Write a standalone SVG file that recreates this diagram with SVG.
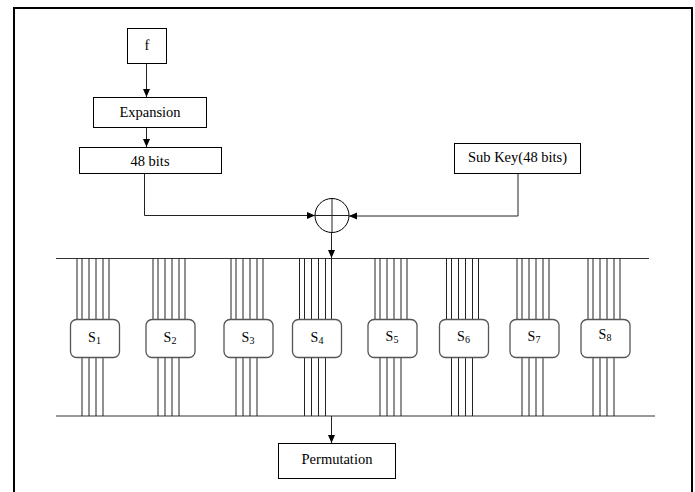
<svg xmlns="http://www.w3.org/2000/svg" width="695" height="492" viewBox="0 0 695 492">
<defs>
<style>
.box{fill:#fff;stroke:#000;stroke-width:1}
.sbox{fill:#fff;stroke:#555;stroke-width:1.3}
.ln{fill:none;stroke:#222;stroke-width:1}
.bus{fill:none;stroke:#333;stroke-width:1.2}
text{font-family:'Liberation Serif','Times New Roman','DejaVu Serif',serif;fill:#000;text-anchor:middle}
.t{font-size:14.5px}
.st{font-size:14px}
.sub{font-size:10px}
</style>
<marker id="ah" markerUnits="userSpaceOnUse" markerWidth="9" markerHeight="8" refX="8" refY="3.5" orient="auto">
<path d="M0,0 L8,3.5 L0,7 z" fill="#000"/>
</marker>
<g id="wires">
<line x1="7" y1="258" x2="7" y2="319"/><line x1="12" y1="258" x2="12" y2="319"/><line x1="19" y1="258" x2="19" y2="319"/><line x1="26" y1="258" x2="26" y2="319"/><line x1="33" y1="258" x2="33" y2="319"/><line x1="39" y1="258" x2="39" y2="319"/>
<line x1="12" y1="357" x2="12" y2="416"/><line x1="19" y1="357" x2="19" y2="416"/><line x1="26" y1="357" x2="26" y2="416"/><line x1="33" y1="357" x2="33" y2="416"/>
</g>
</defs>
<rect x="0" y="0" width="695" height="492" fill="#fff"/>
<rect x="14" y="8" width="678" height="490" fill="none" stroke="#000" stroke-width="2"/>

<g id="connectors">
<line class="ln" x1="146.5" y1="63" x2="146.5" y2="97" marker-end="url(#ah)"/>
<line class="ln" x1="146.5" y1="127" x2="146.5" y2="147" marker-end="url(#ah)"/>
<polyline class="ln" points="144.5,173 144.5,215.5 315,215.5" marker-end="url(#ah)"/>
<polyline class="ln" points="518,173 518,216 349,216" marker-end="url(#ah)"/>
<line class="ln" x1="331.5" y1="232" x2="331.5" y2="258" marker-end="url(#ah)"/>
<line class="bus" x1="56" y1="258.5" x2="649" y2="258.5"/>
<line class="bus" x1="56" y1="416" x2="655" y2="416" stroke-width="2" stroke="#555"/>
<line class="ln" x1="331.5" y1="416" x2="331.5" y2="443" marker-end="url(#ah)"/>
<g class="ln" stroke="#222">
<use href="#wires" x="70"/>
<use href="#wires" x="146"/>
<use href="#wires" x="224"/>
<use href="#wires" x="292.5"/>
<use href="#wires" x="368"/>
<use href="#wires" x="439.5"/>
<use href="#wires" x="510"/>
<use href="#wires" x="581"/>
</g>
</g>

<g id="node-f"><rect class="box" x="127.5" y="28.5" width="39" height="35"/><text class="t" x="147" y="50">f</text></g>
<g id="node-expansion"><rect class="box" x="93.5" y="97.5" width="113" height="30"/><text class="t" x="150" y="117">Expansion</text></g>
<g id="node-48bits"><rect class="box" x="79.5" y="147.5" width="142" height="26"/><text class="t" x="150" y="165.5">48 bits</text></g>
<g id="node-subkey"><rect class="box" x="454.5" y="143.5" width="126" height="30"/><text class="t" x="517.5" y="162">Sub Key(48 bits)</text></g>
<g id="node-xor"><circle cx="332" cy="215.5" r="17" fill="#fff" stroke="#000" stroke-width="1"/><line class="ln" x1="315" y1="215.5" x2="349" y2="215.5"/><line class="ln" x1="332" y1="198.5" x2="332" y2="232.5"/></g>

<g id="node-s1"><rect class="sbox" x="70.5" y="319.5" width="49" height="38" rx="6"/><text class="st" x="94.5" y="342">S<tspan class="sub" dy="2">1</tspan></text></g>
<g id="node-s2"><rect class="sbox" x="146" y="319.5" width="49" height="38" rx="6"/><text class="st" x="170" y="342">S<tspan class="sub" dy="2">2</tspan></text></g>
<g id="node-s3"><rect class="sbox" x="224" y="319.5" width="49" height="38" rx="6"/><text class="st" x="248" y="342">S<tspan class="sub" dy="2">3</tspan></text></g>
<g id="node-s4"><rect class="sbox" x="292.5" y="319.5" width="49" height="38" rx="6"/><text class="st" x="317" y="342">S<tspan class="sub" dy="2">4</tspan></text></g>
<g id="node-s5"><rect class="sbox" x="368" y="319.5" width="49" height="38" rx="6"/><text class="st" x="392" y="341">S<tspan class="sub" dy="2">5</tspan></text></g>
<g id="node-s6"><rect class="sbox" x="439.5" y="319.5" width="49" height="38" rx="6"/><text class="st" x="463.5" y="341">S<tspan class="sub" dy="2">6</tspan></text></g>
<g id="node-s7"><rect class="sbox" x="510" y="319.5" width="49" height="38" rx="6"/><text class="st" x="534" y="341">S<tspan class="sub" dy="2">7</tspan></text></g>
<g id="node-s8"><rect class="sbox" x="581" y="319.5" width="49" height="38" rx="6"/><text class="st" x="605" y="339">S<tspan class="sub" dy="2">8</tspan></text></g>

<g id="node-permutation"><rect class="box" x="278.5" y="443.5" width="117" height="35"/><text class="t" x="337" y="464">Permutation</text></g>
</svg>
